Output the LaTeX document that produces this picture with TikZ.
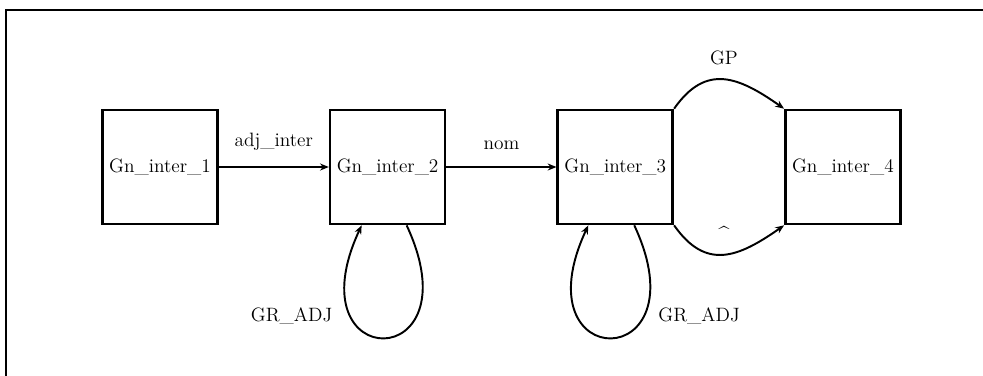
\documentclass[tikz,border=0pt]{standalone}
\usepackage{tikz}
\usetikzlibrary{arrows.meta,positioning}
\newcommand{\gnfont}{\fontsize{11}{13}\selectfont}

\begin{document}
\begin{tikzpicture}[
    x=0.2mm, y=0.2mm,
    gnbox/.style={draw, line width=1.5pt, minimum width=23mm, minimum height=22.8mm,
                  inner sep=2pt, font=\gnfont},
    arr/.style={-{Stealth[length=5pt, width=4pt]}, line width=1.1pt},
    lbl/.style={font=\gnfont},
    frame/.style={line width=1.4pt},
]
\useasboundingbox (0,0) rectangle (983,-375);

% outer frame (runs off the right and bottom edges)
\draw[frame] (6,-10) rectangle (1000,-400);

% Intermediate groups
\node[gnbox] (g1) at (160,-167) {Gn\_inter\_1};
\node[gnbox, right=22mm of g1] (g2) {Gn\_inter\_2};
\node[gnbox, right=22mm of g2] (g3) {Gn\_inter\_3};
\node[gnbox, right=22mm of g3] (g4) {Gn\_inter\_4};

% ── Arrows ──
\draw[arr] (g1) -- node[lbl, midway, above=2mm] {adj\_inter} (g2);
\draw[arr] (g2) -- node[lbl, midway, above=2mm] {nom} (g3);

% g3 -> g4, upper and lower arcs
\draw[arr] (g3.north east) to[out=55, in=145, looseness=1.3]
    node[lbl, midway, above=1.6mm] {GP} (g4.north west);
\draw[arr] (g3.south east) to[out=-55, in=-145, looseness=1.3]
    node[lbl, midway, above=1.5mm] {\textasciicircum} (g4.south west);

% self loops under g2 and g3
\draw[arr] ([xshift=3.8mm]g2.south)
    .. controls +(14mm,-30mm) and +(-14mm,-30mm) ..
    node[lbl, pos=0.72, left=2.5mm] {GR\_ADJ} ([xshift=-5.2mm]g2.south);
\draw[arr] ([xshift=3.8mm]g3.south)
    .. controls +(14mm,-30mm) and +(-14mm,-30mm) ..
    node[lbl, pos=0.28, right=1.5mm] {GR\_ADJ} ([xshift=-5.4mm]g3.south);

\end{tikzpicture}
\end{document}
